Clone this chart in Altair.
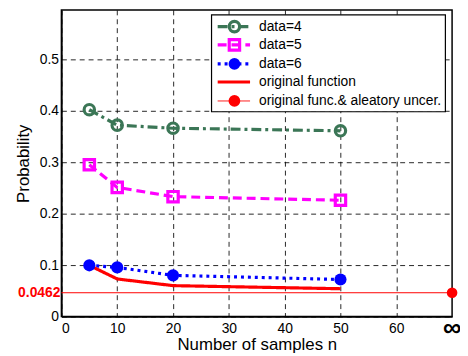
import altair as alt
import pandas as pd

# ---- data ----
n_samples = [5, 10, 20, 50]
data4 = [0.402, 0.372, 0.366, 0.361]
data5 = [0.295, 0.251, 0.233, 0.226]
data6 = [0.0995, 0.0955, 0.080, 0.072]
orig_func = [0.0995, 0.073, 0.060, 0.054]
aleatory_value = 0.0462
inf_x = 70
x_ticks = [0, 10, 20, 30, 40, 50, 60]
y_ticks = [0, 0.1, 0.2, 0.3, 0.4, 0.5]
series_names = ["data=4", "data=5", "data=6", "original function",
                "original func.& aleatory uncer."]
series_colors = ["#3b7656", "#ff00ff", "#0000ff", "#ff0000", "#ff0000"]
series_dash = [[10, 4, 3, 4], [9, 5], [3, 4], [1, 0], [1, 0]]

# ---- legend layout (in axis units) ----
leg_box = {"x": 26.9, "x2": 68.8, "y": 0.398, "y2": 0.5865}
leg_rows = [0.5635, 0.528, 0.491, 0.4558, 0.419]
leg_line_x = (28.0, 33.8)
leg_mark_x = 31.0
leg_text_x = 35.4

W, H = 395, 310
FONT = "Liberation Sans"

rows = []
for name, vals in zip(series_names[:4], [data4, data5, data6, orig_func]):
    for n, v in zip(n_samples, vals):
        rows.append({"series": name, "n": n, "p": v})
df = pd.DataFrame(rows)

xs = alt.Scale(domain=[0, inf_x], nice=False, zero=False)
ys = alt.Scale(domain=[0, 0.596], nice=False, zero=False)
cscale = alt.Scale(domain=series_names, range=series_colors)
dscale = alt.Scale(domain=series_names, range=series_dash)

base = alt.Chart(df)

# reference line (original function + aleatory uncertainty)
ref_df = pd.DataFrame({"x": [0], "x2": [inf_x], "p": [aleatory_value]})
ref_line = alt.Chart(ref_df).mark_rule(color="#ff0000", strokeWidth=1).encode(
    x=alt.X("x:Q", scale=xs,
            axis=alt.Axis(values=x_ticks, title="Number of samples n",
                          grid=True, labelPadding=5, titlePadding=1)),
    x2="x2:Q",
    y=alt.Y("p:Q", scale=ys,
            axis=alt.Axis(values=y_ticks, title="Probability", grid=True,
                          labelExpr="datum.value == 0 ? '0' : format(datum.value, '.1f')",
                          labelPadding=3, titlePadding=7)),
)
ref_dot = alt.Chart(pd.DataFrame({"x": [inf_x], "p": [aleatory_value]})).mark_point(
    shape="circle", filled=True, color="#ff0000", size=115, opacity=1
).encode(x=alt.X("x:Q", scale=xs), y=alt.Y("p:Q", scale=ys))

ref_label = alt.Chart(pd.DataFrame({"p": [aleatory_value], "t": ["0.0462"]})).mark_text(
    align="right", baseline="middle", color="#ff0000", font=FONT,
    fontSize=14, fontWeight="bold"
).encode(x=alt.value(-1), y=alt.Y("p:Q", scale=ys), text="t:N")

inf_label = alt.Chart(pd.DataFrame({"x": [inf_x], "t": ["∞"]})).mark_text(
    align="center", baseline="middle", color="black", font=FONT,
    fontSize=26, fontWeight="bold"
).encode(x=alt.X("x:Q", scale=xs), y=alt.value(H + 12), text="t:N")

lines = base.mark_line(strokeWidth=3.2, strokeCap="butt").encode(
    x=alt.X("n:Q", scale=xs),
    y=alt.Y("p:Q", scale=ys),
    color=alt.Color("series:N", scale=cscale, legend=None),
    strokeDash=alt.StrokeDash("series:N", scale=dscale, legend=None),
    detail="series:N",
)

p4 = base.transform_filter(alt.datum.series == "data=4").mark_point(
    shape="circle", filled=False, color=series_colors[0], size=110,
    strokeWidth=3.2, opacity=1
).encode(x=alt.X("n:Q", scale=xs), y=alt.Y("p:Q", scale=ys))
p5 = base.transform_filter(alt.datum.series == "data=5").mark_point(
    shape="square", filled=False, color=series_colors[1], size=110,
    strokeWidth=3.2, opacity=1
).encode(x=alt.X("n:Q", scale=xs), y=alt.Y("p:Q", scale=ys))
p6 = base.transform_filter(alt.datum.series == "data=6").mark_point(
    shape="circle", filled=True, color=series_colors[2], size=150, opacity=1
).encode(x=alt.X("n:Q", scale=xs), y=alt.Y("p:Q", scale=ys))

# ---- legend ----
box = alt.Chart(pd.DataFrame([leg_box])).mark_rect(
    fill="white", stroke="black", strokeWidth=1.2
).encode(x=alt.X("x:Q", scale=xs), x2="x2:Q",
         y=alt.Y("y:Q", scale=ys), y2="y2:Q")

leg_df = pd.DataFrame({
    "series": series_names,
    "y": leg_rows,
    "x": [leg_line_x[0]] * 5,
    "x2": [leg_line_x[1]] * 5,
    "mx": [leg_mark_x] * 5,
    "tx": [leg_text_x] * 5,
    "w": [3.2, 3.2, 3.2, 3.2, 1.0],
})
leg_lines = alt.Chart(leg_df).mark_rule(strokeCap="butt").encode(
    x=alt.X("x:Q", scale=xs), x2="x2:Q",
    y=alt.Y("y:Q", scale=ys),
    color=alt.Color("series:N", scale=cscale, legend=None),
    strokeDash=alt.StrokeDash("series:N", scale=dscale, legend=None),
    strokeWidth=alt.StrokeWidth("w:Q", scale=None),
)
leg_p4 = alt.Chart(leg_df).transform_filter(alt.datum.series == "data=4").mark_point(
    shape="circle", filled=False, color=series_colors[0], size=110, strokeWidth=3.2, opacity=1
).encode(x=alt.X("mx:Q", scale=xs), y=alt.Y("y:Q", scale=ys))
leg_p5 = alt.Chart(leg_df).transform_filter(alt.datum.series == "data=5").mark_point(
    shape="square", filled=False, color=series_colors[1], size=110, strokeWidth=3.2, opacity=1
).encode(x=alt.X("mx:Q", scale=xs), y=alt.Y("y:Q", scale=ys))
leg_p6 = alt.Chart(leg_df).transform_filter(
    (alt.datum.series == "data=6") | (alt.datum.series == series_names[4])
).mark_point(shape="circle", filled=True, size=140, opacity=1).encode(
    x=alt.X("mx:Q", scale=xs), y=alt.Y("y:Q", scale=ys),
    color=alt.Color("series:N", scale=cscale, legend=None),
)
leg_text = alt.Chart(leg_df).mark_text(
    align="left", baseline="middle", font=FONT, fontSize=14, color="black"
).encode(x=alt.X("tx:Q", scale=xs), y=alt.Y("y:Q", scale=ys), text="series:N")

chart = alt.layer(
    ref_line, lines, p4, p5, p6, ref_dot, ref_label, inf_label,
    box, leg_lines, leg_p4, leg_p5, leg_p6, leg_text,
).resolve_scale(color="shared", strokeDash="shared").properties(
    width=W, height=H,
    background="white",
    autosize=alt.AutoSizeParams(type="none"),
    padding={"left": 54, "top": 0, "right": 8, "bottom": 38},
).configure_view(
    stroke="black", strokeWidth=1.5
).configure_axis(
    labelFont=FONT, labelFontSize=14, labelColor="black",
    titleFont=FONT, titleFontSize=17, titleFontWeight="normal", titleColor="black",
    gridColor="black", gridDash=[5, 4], gridOpacity=0.85, gridWidth=1,
    domainColor="black", domainWidth=1.5, ticks=False,
)

chart.save("out.html", embed_options={"renderer": "svg", "actions": False})
